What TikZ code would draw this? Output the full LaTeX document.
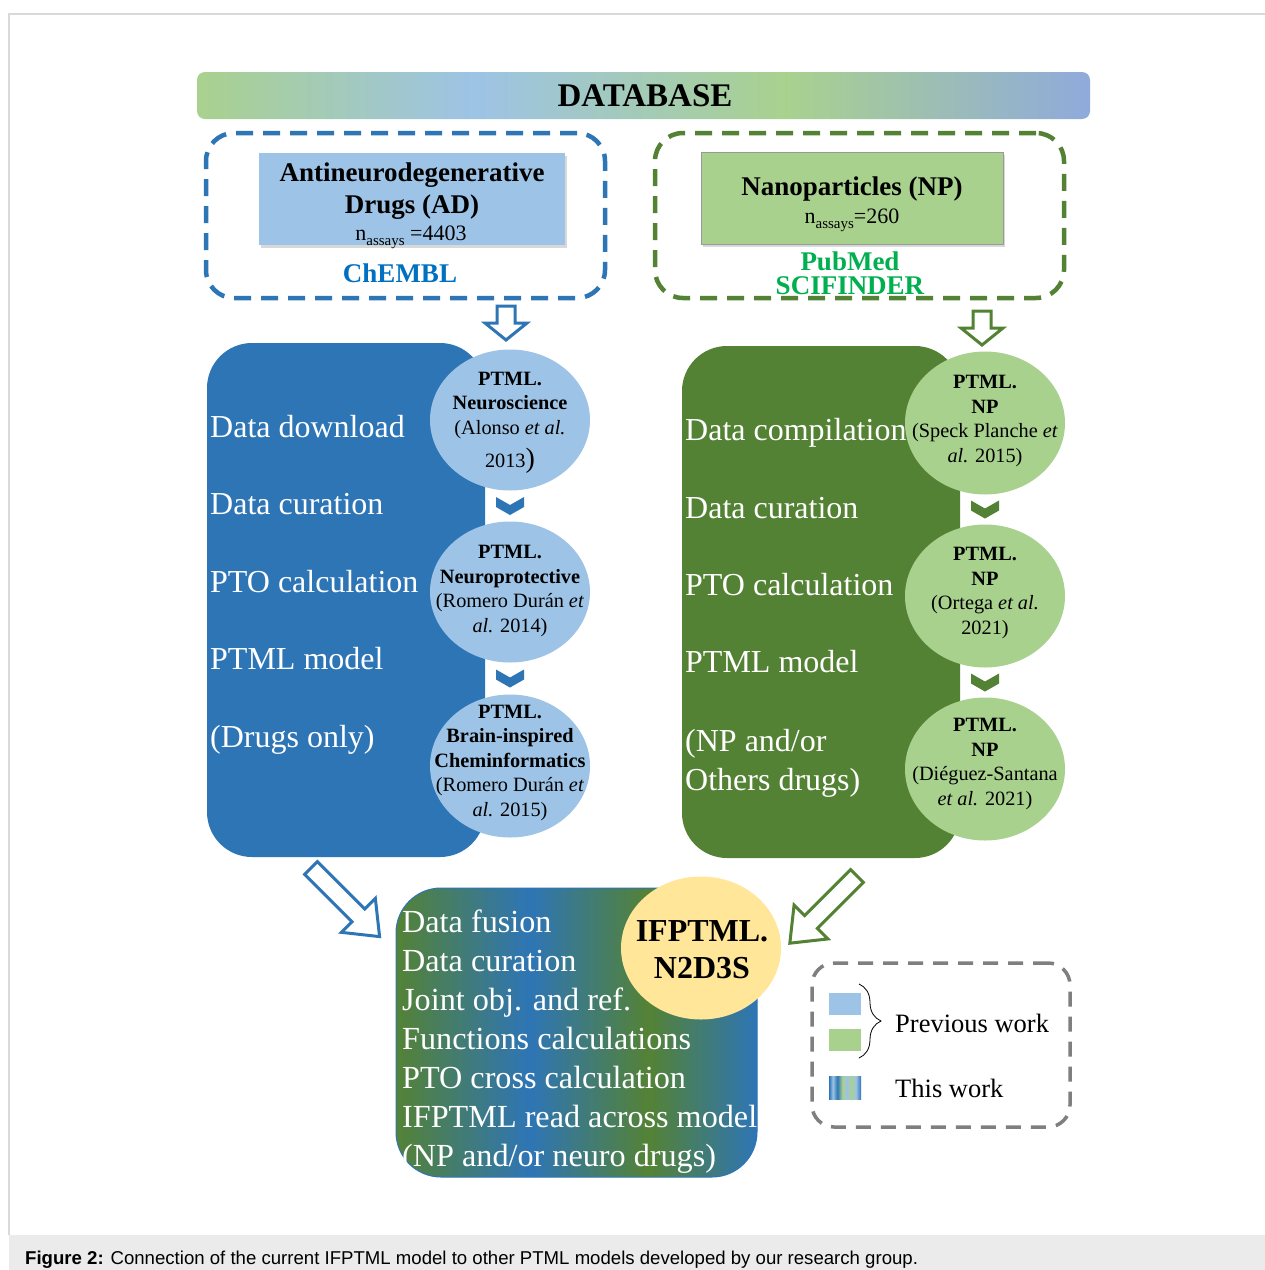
\documentclass[tikz,border=0pt]{standalone}
\usepackage{fontspec}
\setmainfont{Liberation Serif}
\setsansfont{Liberation Sans}
\usetikzlibrary{shapes.geometric,decorations.pathreplacing,shadows,calc}

\definecolor{dblue}{RGB}{46,117,182}
\definecolor{lblue}{RGB}{157,195,230}
\definecolor{dgreen}{RGB}{84,130,53}
\definecolor{lgreen}{RGB}{169,209,142}
\definecolor{chembl}{RGB}{0,112,192}
\definecolor{pubmed}{RGB}{0,176,80}
\definecolor{yel}{RGB}{255,230,153}
\definecolor{lav}{RGB}{143,170,220}
\definecolor{legray}{RGB}{127,127,127}
\definecolor{capbg}{RGB}{235,235,235}
\definecolor{framecol}{RGB}{217,217,217}

\pgfdeclarehorizontalshading{dbshade}{100bp}{color(0bp)=(lgreen); color(25bp)=(lgreen); color(40.5bp)=(lblue); color(58bp)=(lgreen); color(75bp)=(lav); color(100bp)=(lav)}
\pgfdeclarehorizontalshading{workshade}{100bp}{color(0bp)=(dgreen); color(25bp)=(dgreen); color(43.5bp)=(dblue); color(60bp)=(dgreen); color(75bp)=(dblue); color(100bp)=(dblue)}
\pgfdeclarehorizontalshading{legshade}{100bp}{color(0bp)=(dblue); color(25bp)=(dblue); color(31bp)=(lblue); color(38bp)=(dblue); color(46bp)=(lgreen); color(53bp)=(lblue); color(60bp)=(lgreen); color(67bp)=(lblue); color(75bp)=(dblue); color(100bp)=(dblue)}

\newcommand\fsz[2]{\fontsize{#1}{#2}\selectfont}
\newcommand\assays{\raisebox{-5pt}{\fsz{15}{15}assays}}

\tikzset{
  hd/.style={font=\bfseries\fsz{27}{31}, inner sep=0, anchor=base},
  bigtxt/.style={text=white, font=\fsz{32}{38}, anchor=base west, inner sep=0},
  worktxt/.style={text=white, font=\fsz{32.2}{38}, anchor=base west, inner sep=0},
  etext/.style={align=center, font=\fsz{20.3}{24.5}, inner sep=0},
  ell/.style={ellipse, minimum width=160pt, minimum height=141pt, inner sep=0},
  dashbox/.style={line width=4.5pt, dash pattern=on 17pt off 10pt, rounded corners=28pt, inner sep=0},
  bigbox/.style={rounded corners=45pt, minimum width=278pt, inner sep=0},
  shd/.style={drop shadow={shadow xshift=1.5pt, shadow yshift=-3pt, opacity=0.3}},
  pics/barrow/.style n args={4}{code={
    \path[pic actions] (0,-#2) -- ({#1-#4},-#2) -- ({#1-#4},-#3) -- (#1,0) -- ({#1-#4},#3) -- ({#1-#4},#2) -- (0,#2) -- cycle;
  }},
  pics/chev/.style={code={
    \path[pic actions] (-14,-9) -- (0,-1) -- (14,-9) -- (14,1) -- (0,9) -- (-14,1) -- cycle;
  }},
}

\begin{document}
\begin{tikzpicture}[x=1pt,y=-1pt]
\useasboundingbox (0,0) rectangle (1265,1270);
\fill[white] (0,0) rectangle (1265,1270);
\fill[capbg] (9,1235) rectangle (1265,1270);
\draw[framecol, line width=1.2pt] (1265,14) -- (9,14) -- (9,1235);
\node[anchor=base west, inner sep=0, font=\sffamily\fsz{18.6}{22}] (cap) at (25,1264)
  {\textbf{Figure 2:} Connection of the current IFPTML model to other PTML models developed by our research group.};

% header bar
\node[shade, shading=dbshade, rounded corners=8pt, minimum width=893pt, minimum height=47pt,
      inner sep=0, font=\bfseries\fsz{33}{40}] (db) at (643.5,95.5) {\hspace*{3pt}DATABASE};

% left source
\node[dashbox, draw=dblue, minimum width=399pt, minimum height=165pt] (srcL) at (405.5,215.5) {};
\node[fill=lblue, minimum width=306pt, minimum height=92pt, inner sep=0, shd] (ad) at (412,199) {};
\node[hd] (adt1) at (412,181.5) {Antineurodegenerative};
\node[hd] (adt2) at (412,213) {Drugs (AD)};
\node[anchor=base, inner sep=0, font=\fsz{22}{24}] (adn) at (411,240) {n\assays{} =4403};
\node[hd, text=chembl] (chembl) at (400,282) {ChEMBL};

% right source
\node[dashbox, draw=dgreen, minimum width=409pt, minimum height=165pt] (srcR) at (859.5,215.5) {};
\node[fill=lgreen, draw=black!40, line width=0.6pt, minimum width=302pt, minimum height=92pt, inner sep=0, shd] (np) at (852,198) {};
\node[hd] (npt) at (852,195.5) {Nanoparticles (NP)};
\node[anchor=base, inner sep=0, font=\fsz{22}{24}] (npn) at (852,223) {n\assays=260};
\node[align=center, inner sep=0, text=pubmed, font=\bfseries\fsz{27}{24}] (pm) at (850,273.5) {PubMed\\SCIFINDER};

% down arrows
\coordinate (aLt) at (506,306);
\coordinate (aRt) at (982,311);
\pic[draw=dblue, fill=white, line width=3pt, rotate=-90] at (aLt) {barrow={34}{9}{21}{17}};
\pic[draw=dgreen, fill=white, line width=3pt, rotate=-90] at (aRt) {barrow={34}{9}{21}{17}};

% big boxes
\node[bigbox, fill=dblue, minimum height=514pt] (bigL) at (346,600) {};
\node[bigbox, fill=dgreen, minimum height=512pt] (bigR) at (821,602) {};

% left ellipses
\node[ell, fill=lblue] (e1) at (510,420) {};
\node[ell, fill=lblue] (e2) at (510,592) {};
\node[ell, fill=lblue, minimum height=143pt] (e3) at (510,766) {};
\node[etext] (e1t) at (510,423) {\textbf{PTML.}\\\textbf{Neuroscience}\\(Alonso \textit{et al.}\\[9pt]2013{\fsz{28}{28})}};
\node[etext] (e2t) at (510,591) {\textbf{PTML.}\\\textbf{Neuroprotective}\\(Romero Durán \textit{et}\\\textit{al.} 2014)};
\node[etext] (e3t) at (510,763) {\textbf{PTML.}\\\textbf{Brain-inspired}\\\textbf{Cheminformatics}\\(Romero Durán \textit{et}\\\textit{al.} 2015)};
\pic[fill=dblue] at ($(e1.south)!0.5!(e2.north)$) {chev};
\pic[fill=dblue] at ($(e2.south)!0.5!(e3.north)$) {chev};

% right ellipses
\node[ell, fill=lgreen, minimum height=143pt] (f1) at (985,423) {};
\node[ell, fill=lgreen, minimum height=143pt] (f2) at (985,596) {};
\node[ell, fill=lgreen, minimum height=143pt] (f3) at (985,769) {};
\node[etext] (f1t) at (985,421) {\textbf{PTML.}\\\textbf{NP}\\(Speck Planche \textit{et}\\\textit{al.} 2015)};
\node[etext] (f2t) at (985,593) {\textbf{PTML.}\\\textbf{NP}\\(Ortega \textit{et al.}\\2021)};
\node[etext] (f3t) at (985,764) {\textbf{PTML.}\\\textbf{NP}\\(Diéguez-Santana\\\textit{et al.} 2021)};
\pic[fill=dgreen] at ($(f1.south)!0.5!(f2.north)$) {chev};
\pic[fill=dgreen] at ($(f2.south)!0.5!(f3.north)$) {chev};

% left texts
\node[bigtxt] (lt1) at (210,437) {Data download};
\node[bigtxt] (lt2) at (210,514) {Data curation};
\node[bigtxt] (lt3) at (210,592) {PTO calculation};
\node[bigtxt] (lt4) at (210,669) {PTML model};
\node[bigtxt] (lt5) at (210,747) {(Drugs only)};

% right texts
\node[bigtxt] (rt1) at (685,440) {Data compilation};
\node[bigtxt] (rt2) at (685,518) {Data curation};
\node[bigtxt] (rt3) at (685,595) {PTO calculation};
\node[bigtxt] (rt4) at (685,672) {PTML model};
\node[bigtxt] (rt5) at (685,751) {(NP and/or};
\node[bigtxt] (rt6) at (685,790) {Others drugs)};

% this work box
\node[shade, shading=workshade, draw=dblue, line width=1pt, rounded corners=45pt,
      minimum width=361pt, minimum height=289pt, inner sep=0] (work) at (576.5,1032.5) {};
\node[ell, fill=yel, minimum height=143pt] (ifp) at (701,948) {};
\node[align=center, inner sep=0, font=\bfseries\fsz{32}{37}] (ifpt) at (702,950) {IFPTML.\\N2D3S};
\node[worktxt] (w1) at (402,932) {Data fusion};
\node[worktxt] (w2) at (402,971) {Data curation};
\node[worktxt] (w3) at (402,1010) {Joint obj. and ref.};
\node[worktxt] (w4) at (402,1049) {Functions calculations};
\node[worktxt] (w5) at (402,1088) {PTO cross calculation};
\node[worktxt] (w6) at (402,1127) {IFPTML read across model};
\node[worktxt] (w7) at (402,1166) {(NP and/or neuro drugs)};

% diagonal arrows
\coordinate (dLt) at (311,868);
\coordinate (dRt) at (857,876);
\pic[draw=dblue, fill=white, line width=3pt, rotate=-45] at (dLt) {barrow={97}{9}{24}{30}};
\pic[draw=dgreen, fill=white, line width=3pt, rotate=-135] at (dRt) {barrow={95}{9}{24}{30}};

% legend
\node[draw=legray, line width=3.5pt, dash pattern=on 15pt off 10pt, rounded corners=22pt,
      minimum width=258pt, minimum height=164pt, inner sep=0] (leg) at (941,1045) {};
\node[fill=lblue, minimum width=32pt, minimum height=22pt, inner sep=0] (sq1) at (845,1004) {};
\node[fill=lgreen, minimum width=32pt, minimum height=22pt, inner sep=0] (sq2) at (845,1040) {};
\node[shade, shading=legshade, minimum width=32pt, minimum height=23pt, inner sep=0] (sq3) at (845,1087.5) {};
\coordinate (brT) at (859,984);
\coordinate (brB) at (859,1058);
\draw[black, line width=0.8pt, decorate, decoration={brace, amplitude=22pt}] (brT) -- (brB);
\node[anchor=base west, inner sep=0, font=\fsz{26.5}{30}] (prev) at (895,1032) {Previous work};
\node[anchor=base west, inner sep=0, font=\fsz{26.5}{30}] (this) at (895,1097) {This work};
\end{tikzpicture}
\end{document}
